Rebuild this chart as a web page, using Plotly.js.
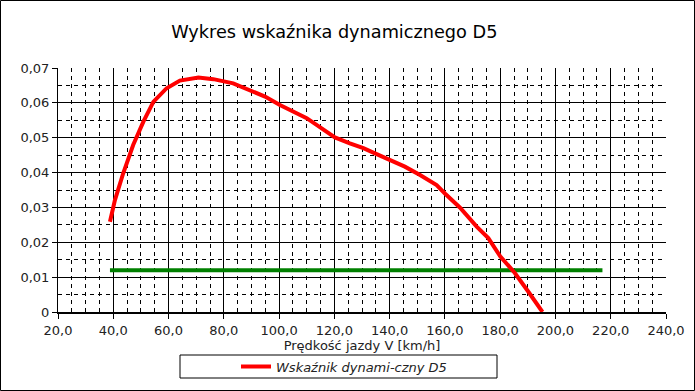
<!DOCTYPE html>
<html><head><meta charset="utf-8">
<script src="https://cdn.plot.ly/plotly-3.0.1.min.js"></script>
<style>html,body{margin:0;padding:0;background:#fff}#chart{width:695px;height:391px}</style>
</head><body><div id="chart"></div>
<script>
// Data
const speedV = [38.8, 40.6, 43.6, 47.2, 50.9, 54.5, 59.3, 64.1, 70.8, 76.2, 83.4, 89.5, 94.9, 100.3, 105.1, 110, 115.4, 120.2, 125.6, 130.5, 135.3, 140.1, 145.5, 151, 157, 160, 165.4, 171.5, 175.7, 180, 185.3, 190.2, 195.3];
const indexD5 = [0.0259, 0.0321, 0.0398, 0.0479, 0.0546, 0.0603, 0.0642, 0.0664, 0.0673, 0.0668, 0.0656, 0.0635, 0.0618, 0.0594, 0.0575, 0.0556, 0.0527, 0.0501, 0.0484, 0.047, 0.0453, 0.0436, 0.0417, 0.0393, 0.0364, 0.034, 0.030, 0.0245, 0.0212, 0.016, 0.0112, 0.0058, 0.0];
const limitV = [38.8, 217];
const limitD = [0.012, 0.012];
const yTickVals = [0, 0.01, 0.02, 0.03, 0.04, 0.05, 0.06, 0.07];
const yTickLabels = ['0', '0,01', '0,02', '0,03', '0,04', '0,05', '0,06', '0,07'];
const xTickVals = [20, 40, 60, 80, 100, 120, 140, 160, 180, 200, 220, 240];
const xTickLabels = ['20,0', '40,0', '60,0', '80,0', '100,0', '120,0', '140,0', '160,0', '180,0', '200,0', '220,0', '240,0'];
const seriesName = 'Wskaźnik dynami-czny D5';

const font = 'DejaVu Sans, sans-serif';
const L = 58, R = 29, T = 68, B = 79, W = 695, H = 391;
const pw = W - L - R, ph = H - T - B;
const px = v => (v - L) / pw;
const py = v => (H - B - v) / ph;

const traces = [
  {x: limitV, y: limitD, mode: 'lines', line: {color: '#008000', width: 4}, showlegend: false, hoverinfo: 'skip'},
  {x: speedV, y: indexD5, mode: 'lines', name: seriesName, line: {color: '#ff0000', width: 4}}
];

const layout = {
  width: W, height: H,
  margin: {l: L, r: R, t: T, b: B, autoexpand: false},
  paper_bgcolor: '#fff', plot_bgcolor: '#fff',
  font: {family: font, size: 13, color: '#222'},
  title: {text: 'Wykres wskaźnika dynamicznego D5', font: {family: font, size: 17.7, color: '#000'}, x: 0.481, xanchor: 'center', y: 1 - 32/H, yanchor: 'middle'},
  xaxis: {
    automargin: false,
    range: [20, 240], tickvals: xTickVals, ticktext: xTickLabels,
    showgrid: true, gridcolor: '#000', gridwidth: 1,
    minor: {dtick: 5, tick0: 20, showgrid: true, gridcolor: '#000', griddash: '4px,4px', gridwidth: 1},
    ticks: 'outside', ticklen: 5, tickcolor: '#000',
    showline: true, linecolor: '#000', linewidth: 2, mirror: false,
    zeroline: false,
    title: {text: 'Prędkość jazdy V [km/h]', font: {family: font, size: 13, color: '#222'}, standoff: 2},
    tickfont: {family: font, size: 13, color: '#222'}
  },
  yaxis: {
    automargin: false,
    range: [0, 0.07], tickvals: yTickVals, ticktext: yTickLabels,
    showgrid: true, gridcolor: '#000', gridwidth: 1,
    minor: {dtick: 0.005, tick0: 0, showgrid: true, gridcolor: '#000', griddash: '4px,4px', gridwidth: 1},
    ticks: 'outside', ticklen: 5, tickcolor: '#000',
    showline: true, linecolor: '#000', linewidth: 1,
    zeroline: false,
    tickfont: {family: font, size: 13, color: '#222'}
  },
  showlegend: true,
  legend: {x: px(236), xanchor: 'left', y: py(366.5), yanchor: 'middle', orientation: 'h', bgcolor: 'rgba(0,0,0,0)', borderwidth: 0,
    font: {family: font, size: 13, color: '#222', style: 'italic'}},
  shapes: [
    {type: 'rect', xref: 'paper', yref: 'paper', x0: px(180), x1: px(497), y0: py(378), y1: py(355), line: {color: '#000', width: 1}, layer: 'above'},
    {type: 'rect', xref: 'paper', yref: 'paper', x0: px(0.5), x1: px(694.5), y0: py(390.5), y1: py(0.5), line: {color: '#000', width: 1}, layer: 'above'}
  ]
};

Plotly.newPlot('chart', traces, layout, {staticPlot: true, displayModeBar: false});
</script></body></html>
